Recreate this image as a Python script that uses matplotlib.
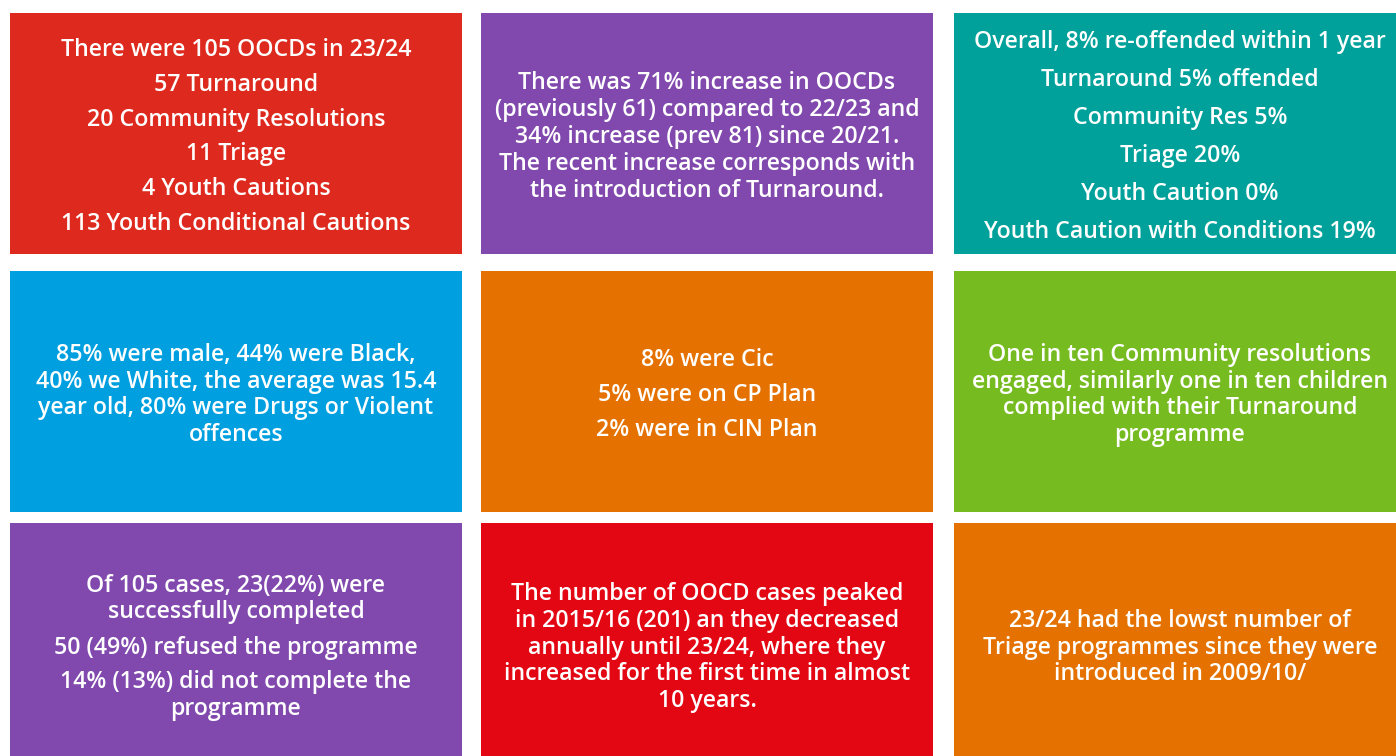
import matplotlib.pyplot as plt
from matplotlib.patches import Rectangle

# box fill colours, read row by row
colours = ["#DE2A1E", "#8149AD", "#00A19A",
           "#009FE0", "#E57200", "#76BC21",
           "#8149AD", "#E30613", "#E57200"]

# each box: list of paragraphs, each paragraph a list of lines
box1 = [["There were 105 OOCDs in 23/24"], ["57 Turnaround"], ["20 Community Resolutions"],
        ["11 Triage"], ["4 Youth Cautions"], ["113 Youth Conditional Cautions"]]
box2 = [["There was 71% increase in OOCDs", "(previously 61) compared to 22/23 and",
         "34% increase (prev 81) since 20/21.", "The recent increase corresponds with",
         "the introduction of Turnaround."]]
box3 = [["Overall, 8% re-offended within 1 year"], ["Turnaround 5% offended"], ["Community Res 5%"],
        ["Triage 20%"], ["Youth Caution 0%"], ["Youth Caution with Conditions 19%"]]
box4 = [["85% were male, 44% were Black,", "40% we White, the average was 15.4",
         "year old, 80% were Drugs or Violent", "offences"]]
box5 = [["8% were Cic"], ["5% were on CP Plan"], ["2% were in CIN Plan"]]
box6 = [["One in ten Community resolutions", "engaged, similarly one in ten children",
         "complied with their Turnaround", "programme"]]
box7 = [["Of 105 cases, 23(22%) were", "successfully completed"], ["50 (49%) refused the programme"],
        ["14% (13%) did not complete the", "programme"]]
box8 = [["The number of OOCD cases peaked", "in 2015/16 (201) an they decreased",
         "annually until 23/24, where they", "increased for the first time in almost",
         "10 years."]]
box9 = [["23/24 had the lowst number of", "Triage programmes since they were",
         "introduced in 2009/10/"]]
boxes = [box1, box2, box3, box4, box5, box6, box7, box8, box9]

# paragraph gap per box (px)
para_gap = [34.6, 35, 38, 35, 35, 35, 35, 35, 35]
line_gap = 26.8

# grid geometry in pixels
col_x = [(10, 462), (481, 933), (954, 1406)]
row_y = [(13, 254), (271, 512), (523, 769)]

fig = plt.figure(figsize=(13.96, 7.56), dpi=100)
ax = fig.add_axes([0, 0, 1, 1])
ax.set_xlim(0, 1396)
ax.set_ylim(756, 0)
ax.axis("off")

for i, paras in enumerate(boxes):
    x0, x1 = col_x[i % 3]
    y0, y1 = row_y[i // 3]
    ax.add_patch(Rectangle((x0, y0), x1 - x0, y1 - y0, color=colours[i], lw=0))

    # line offsets
    ys = []
    y = 0
    for p, lines in enumerate(paras):
        if p > 0:
            y += para_gap[i]
        for k, line in enumerate(lines):
            if k > 0:
                y += line_gap
            ys.append((y, line))
    total = ys[-1][0]
    cy = (y0 + y1) / 2 + 3.5
    if i >= 6:
        cy -= 2
    cx = (x0 + x1) / 2
    for off, line in ys:
        ax.text(cx, cy - total / 2 + off, line, ha="center", va="center",
                color="white", fontsize=16.7, fontfamily="Open Sans", fontweight="semibold")

plt.savefig("out.png", dpi=100)
